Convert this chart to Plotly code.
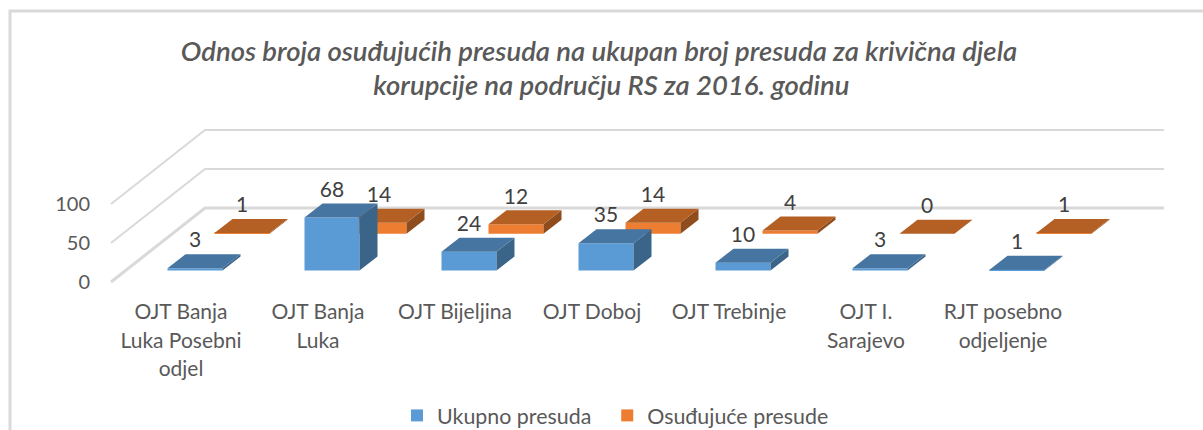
import plotly.graph_objects as go

categories = ["OJT Banja<br>Luka Posebni<br>odjel", "OJT Banja<br>Luka", "OJT Bijeljina", "OJT Doboj",
              "OJT Trebinje", "OJT I.<br>Sarajevo", "RJT posebno<br>odjeljenje"]
ukupno = [3, 68, 24, 35, 10, 3, 1]
osudjujuce = [1, 14, 12, 14, 4, 0, 1]
title_lines = ["Odnos broja osuđujućih presuda na ukupan broj presuda za krivična djela",
               "\u00a0\u00a0\u00a0\u00a0korupcije na području RS za 2016. godinu"]
yticks = [0, 50, 100]

W, H = 1203, 430
PX_X, PX_V = 137.0, 0.78
BOTTOM = 296
CAT0 = 181
idx = list(range(len(categories)))
BAR_W = 55 / PX_X
DX, DV = 18 / PX_X, 14 / PX_V


def xr(c0):
    return [-c0 / PX_X, (W - c0) / PX_X]


def yr(b0):
    return [(b0 - BOTTOM) / PX_V, b0 / PX_V]


def faces(vals):
    sx, sy, tx, ty = [], [], [], []
    for i, v in zip(idx, vals):
        l, r = i - BAR_W / 2, i + BAR_W / 2
        sx += [r, r + DX, r + DX, r, r, None]
        sy += [0, DV, v + DV, v, 0, None]
        tx += [l, r, r + DX, l + DX, l, None]
        ty += [v, v, v + DV, v + DV, v, None]
    return sx, sy, tx, ty


fig = go.Figure()


def add_series(name, vals, front, top, side, ax, ay):
    fig.add_bar(x=idx, y=vals, width=BAR_W, name=name, marker=dict(color=front, line_width=0),
                xaxis=ax, yaxis=ay, hoverinfo="skip")
    sx, sy, tx, ty = faces(vals)
    fig.add_scatter(x=sx, y=sy, fill="toself", fillcolor=side, mode="none", showlegend=False,
                    xaxis=ax, yaxis=ay, hoverinfo="skip")
    fig.add_scatter(x=tx, y=ty, fill="toself", fillcolor=top, mode="none", showlegend=False,
                    xaxis=ax, yaxis=ay, hoverinfo="skip")


# back wall and gridlines on the base axes
WALL_DX, WALL_DV = 94 / PX_X, 74 / PX_V
LEFT, RIGHT = (111 - CAT0) / PX_X, (1164 - CAT0) / PX_X
for v in yticks:
    fig.add_scatter(x=[LEFT, LEFT + WALL_DX, RIGHT], y=[v, v + WALL_DV, v + WALL_DV], mode="lines",
                    line=dict(color="#d9d9d9", width=3 if v == 0 else 2), showlegend=False,
                    hoverinfo="skip", xaxis="x", yaxis="y")

add_series("Ukupno presuda\u00a0\u00a0", ukupno, "#5b9bd5", "#4675a1", "#3a6488", "x3", "y3")
add_series("Osuđujuće presude", osudjujuce, "#ed7d31", "#b45f24", "#8f4c1c", "x2", "y2")

# data labels, all on the top axes
SHIFT_X, SHIFT_V = 47 / PX_X, 36.8 / PX_V
LIFT = 12 / PX_V
fig.add_scatter(x=idx + [i + SHIFT_X for i in idx],
                y=[v + DV + LIFT for v in ukupno] + [v + DV + LIFT + SHIFT_V for v in osudjujuce],
                text=[str(v) for v in ukupno + osudjujuce], mode="text", textposition="middle center",
                textfont=dict(family="Lato", size=21, color="#404040"), showlegend=False,
                hoverinfo="skip", xaxis="x3", yaxis="y3")

dom = [(H - BOTTOM) / H, 1]
hidden = dict(visible=False, fixedrange=True)
TF = 22
ticktext = ['<br>'.join(f'<span style="font-size:21px">{p}</span>' for p in c.split("<br>")) for c in categories]
fig.update_layout(
    width=W, height=H, autosize=False, margin=dict(l=0, r=0, t=0, b=0, autoexpand=False),
    paper_bgcolor="white", plot_bgcolor="rgba(0,0,0,0)", barmode="overlay",
    font=dict(family="Lato", color="#595959"),
    xaxis=dict(domain=[0, 1], range=xr(CAT0), tickmode="array", tickvals=idx, ticktext=ticktext,
               tickfont=dict(size=TF, color="#595959"), showgrid=False, zeroline=False, showline=False,
               ticks="", tickangle=0, fixedrange=True),
    yaxis=dict(domain=dom, range=yr(282), tickvals=yticks, ticktext=[str(t) for t in yticks],
               tickfont=dict(size=20, color="#595959"), showgrid=False, zeroline=False, showline=False,
               ticks="", anchor="free", position=90 / W, fixedrange=True),
    xaxis2=dict(overlaying="x", range=xr(242), **hidden),
    yaxis2=dict(overlaying="y", range=yr(233.7), **hidden),
    xaxis3=dict(overlaying="x", range=xr(195), **hidden),
    yaxis3=dict(overlaying="y", range=yr(270.5), **hidden),
    legend=dict(orientation="h", x=397 / W, xanchor="left", yref="container", y=1 - 395 / H, yanchor="top",
                bgcolor="rgba(0,0,0,0)", font=dict(size=21.4, color="#595959"), itemclick=False,
                traceorder="normal"),
    title=dict(text="<br>".join(f'<span style="font-size:27.5px">{t}</span>' for t in title_lines),
               x=599 / W, xanchor="center", y=1 - 61 / H, yanchor="top",
               font=dict(family="Lato", size=26, color="#595959", style="italic", weight=600)),
    shapes=[dict(type="path", xref="paper", yref="paper",
                 path=f"M {10/W} 0 L {10/W} {1-11/H} L 1 {1-11/H}",
                 line=dict(color="#d9d9d9", width=3), layer="below")],
)
fig.write_html("out.html", config=dict(displayModeBar=False), post_script="document.body.style.margin='0';document.documentElement.style.overflow='hidden';")
